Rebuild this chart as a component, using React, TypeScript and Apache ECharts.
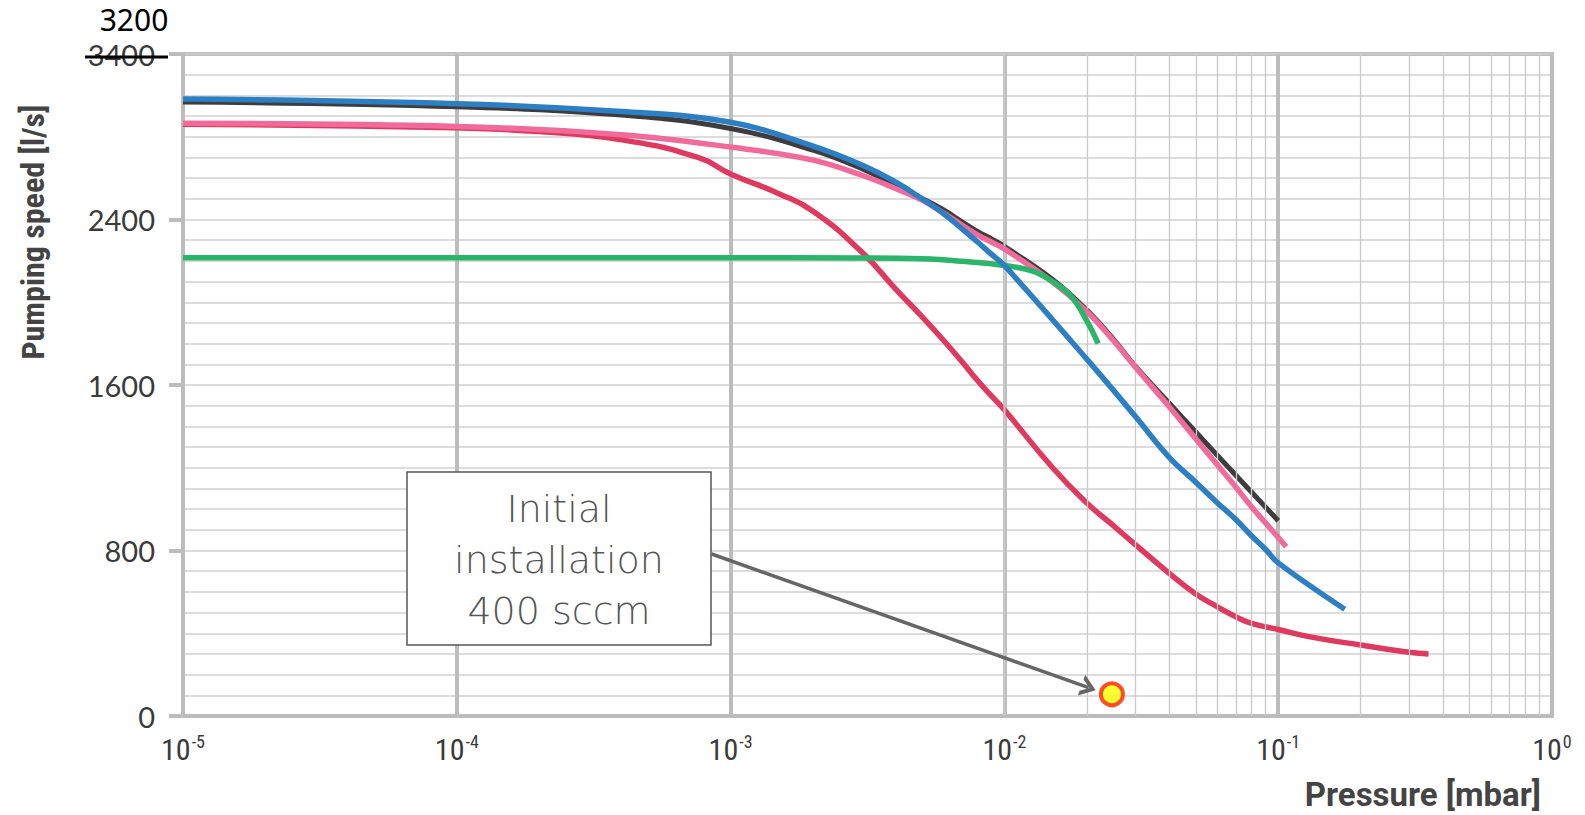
import React, { useEffect, useRef } from "react";
import * as echarts from "echarts";

// ---- data (pressure in mbar, pumping speed in l/s) ----
const blackP = [1e-5, 1e-4, 4e-4, 1e-3, 2e-3, 3e-3, 4e-3, 5e-3, 6e-3, 7e-3, 8e-3, 9e-3, 1e-2, 1.5e-2, 2e-2, 2.5e-2, 3e-2, 4e-2, 5e-2, 7e-2, 1e-1];
const blackS = [2968, 2945, 2905, 2840, 2735, 2647, 2566, 2502, 2446, 2389, 2341, 2305, 2270, 2110, 1962, 1822, 1692, 1512, 1373, 1164, 944];

const pinkP = [1e-5, 1e-4, 4e-4, 1e-3, 2e-3, 3e-3, 4e-3, 5e-3, 6e-3, 7e-3, 8e-3, 9e-3, 1e-2, 1.5e-2, 2e-2, 2.5e-2, 3e-2, 4e-2, 5e-2, 6e-2, 7e-2, 8e-2, 9e-2, 0.107];
const pinkS = [2865, 2850, 2810, 2750, 2687, 2615, 2550, 2494, 2431, 2373, 2325, 2290, 2258, 2097, 1955, 1815, 1688, 1495, 1340, 1213, 1107, 1010, 933, 818];

const redP = [1e-5, 1e-4, 2e-4, 4e-4, 7.6e-4, 1e-3, 1.5e-3, 2e-3, 3e-3, 4e-3, 5e-3, 6e-3, 7e-3, 8e-3, 9e-3, 1e-2, 1.5e-2, 2e-2, 2.5e-2, 3e-2, 4e-2, 5e-2, 6e-2, 7e-2, 8e-2, 1e-1, 0.134, 0.2, 0.3, 0.354];
const redS = [2860, 2843, 2825, 2785, 2700, 2620, 2525, 2440, 2245, 2065, 1930, 1815, 1712, 1620, 1545, 1480, 1200, 1030, 920, 830, 690, 590, 528, 480, 448, 418, 380, 343, 308, 300];

const blueP = [1e-5, 1e-4, 4e-4, 1e-3, 2e-3, 3e-3, 4e-3, 5e-3, 6e-3, 7e-3, 8e-3, 9e-3, 1e-2, 2e-2, 3e-2, 4e-2, 5e-2, 6e-2, 7e-2, 8e-2, 9e-2, 1e-1, 0.175];
const blueS = [2982, 2960, 2922, 2870, 2755, 2665, 2582, 2500, 2428, 2355, 2290, 2230, 2178, 1725, 1450, 1250, 1130, 1030, 950, 870, 805, 740, 516];

const greenP = [1e-5, 1e-3, 3e-3, 5e-3, 7e-3, 1e-2, 1.27e-2, 1.5e-2, 1.75e-2, 2e-2, 2.2e-2];
const greenS = [2215, 2215, 2214, 2210, 2198, 2178, 2150, 2100, 2030, 1910, 1800];

const markerP = [0.0247];
const markerS = [105];

const arrowFrom = [8.53e-4, 783];
const arrowTo = [0.0203, 137];

const yTickLabels = ["0", "800", "1600", "2400", "3400"];
const xDecades = [-5, -4, -3, -2, -1, 0];
const minorMultipliers = [2, 3, 4, 5, 6, 7, 8, 9];

const pairs = (xs: number[], ys: number[]) => xs.map((x, i) => [x, ys[i]]);

const GRID_LEFT = 183;
const GRID_RIGHT = 33;
const GRID_TOP = 54;
const GRID_BOTTOM = 99;

export default function App() {
  const ref = useRef<HTMLDivElement>(null);

  useEffect(() => {
    if (!ref.current) return;
    const chart = echarts.init(ref.current, null, { renderer: "svg" });

    const minorLines: any[] = [];
    xDecades.slice(0, -1).forEach((d) => {
      minorMultipliers.forEach((m) => {
        minorLines.push({ xAxis: m * Math.pow(10, d) });
      });
    });

    const narrow = "'Liberation Sans Narrow', 'Roboto Condensed', Roboto, sans-serif";
    const lineSeries = (name: string, xs: number[], ys: number[], color: string, width: number, z: number, smooth = 0.4) => ({
      name,
      type: "line",
      data: pairs(xs, ys),
      smooth,
      showSymbol: false,
      symbol: "none",
      lineStyle: { color, width, cap: "butt" },
      z,
      silent: true,
    });

    chart.setOption({
      animation: false,
      backgroundColor: "#ffffff",
      grid: {
        left: GRID_LEFT,
        right: GRID_RIGHT,
        top: GRID_TOP,
        bottom: GRID_BOTTOM,
        show: true,
        borderColor: "#bcbcbc",
        borderWidth: 4,
        backgroundColor: "transparent",
      },
      xAxis: {
        type: "log",
        logBase: 10,
        min: Math.pow(10, xDecades[0]),
        max: Math.pow(10, xDecades[xDecades.length - 1]),
        axisLine: { show: true, lineStyle: { color: "#bcbcbc", width: 4 } },
        axisTick: { show: false },
        splitLine: { show: true, lineStyle: { color: "#bcbcbc", width: 4 } },
        axisLabel: {
          margin: 16,
          showMinLabel: true,
          showMaxLabel: true,
          formatter: (v: number) => {
            const e = Math.round(Math.log10(v));
            return `{b|10}{e|${e}}`;
          },
          rich: {
            b: { fontSize: 30, color: "#3a3a3a", fontFamily: narrow },
            e: { fontSize: 18, color: "#3a3a3a", fontFamily: narrow, padding: [0, 0, 16, 1] },
          },
        },
      },
      yAxis: [
        {
          type: "value",
          min: 0,
          max: 3200,
          interval: 800,
          axisLine: { show: true, lineStyle: { color: "#bcbcbc", width: 4 } },
          axisTick: { show: true, length: 14, lineStyle: { color: "#bcbcbc", width: 4 } },
          splitLine: { show: false },
          axisLabel: {
            margin: 28,
            fontSize: 29,
            color: "#3a3a3a",
            fontFamily: "Lato, Roboto, sans-serif",
            formatter: (v: number) => yTickLabels[Math.round(v / 800)] ?? "",
          },
        },
        {
          type: "value",
          min: 0,
          max: 3200,
          interval: 100,
          axisLine: { show: false },
          axisTick: { show: false },
          axisLabel: { show: false },
          splitLine: { show: true, lineStyle: { color: "#d0d0d0", width: 1.5 } },
        },
      ],
      series: [
        {
          name: "minor",
          type: "line",
          data: [],
          silent: true,
          z: 1,
          markLine: {
            silent: true,
            symbol: ["none", "none"],
            label: { show: false },
            animation: false,
            lineStyle: { color: "#c9c9c9", width: 1.3, type: "solid" },
            emphasis: { disabled: true },
            data: minorLines,
          },
        },
        lineSeries("black", blackP, blackS, "#3f3c3d", 5, 3),
        lineSeries("red", redP, redS, "#e0395f", 5.5, 4, 0.5),
        lineSeries("pink", pinkP, pinkS, "#f06b9c", 5.5, 5),
        lineSeries("green", greenP, greenS, "#2bb56a", 5.5, 6),
        lineSeries("blue", blueP, blueS, "#2b7fc2", 5.5, 7),
        {
          name: "initial",
          type: "scatter",
          data: pairs(markerP, markerS),
          symbol: "circle",
          symbolSize: 22,
          itemStyle: { color: "#ffff00", borderColor: "#ff2200", borderWidth: 4 },
          z: 9,
          silent: true,
          markLine: {
            silent: true,
            animation: false,
            symbol: ["none", "path://M0,12 L8,0 L16,12 L12.4,12 L8,5.2 L3.6,12 Z"],
            symbolSize: [22, 15],
            label: { show: false },
            lineStyle: { color: "#666666", width: 3.5, type: "solid" },
            itemStyle: { color: "#666666" },
            emphasis: { disabled: true },
            data: [[{ coord: arrowFrom }, { coord: arrowTo }]],
          },
        },
      ],
      graphic: [
        {
          type: "text",
          x: 33,
          y: 232,
          rotation: Math.PI / 2,
          style: {
            text: "Pumping speed [l/s]",
            fontSize: 32,
            fontWeight: "bold",
            fontFamily: narrow,
            fill: "#444444",
            align: "center",
            verticalAlign: "middle",
            textAlign: "center",
            textVerticalAlign: "middle",
          },
        },
        {
          type: "text",
          x: 1541,
          y: 794,
          style: {
            text: "Pressure [mbar]",
            fontSize: 33,
            fontWeight: "bold",
            fontFamily: "Roboto, sans-serif",
            fill: "#444444",
            align: "right",
            verticalAlign: "middle",
            textAlign: "right",
            textVerticalAlign: "middle",
          },
        },
        {
          type: "text",
          x: 134,
          y: 19,
          style: {
            text: "3200",
            fontSize: 30,
            fontFamily: "'Noto Sans', sans-serif",
            fill: "#000000",
            align: "center",
            verticalAlign: "middle",
            textAlign: "center",
            textVerticalAlign: "middle",
          },
        },
        {
          type: "line",
          shape: { x1: 85, y1: 57, x2: 168, y2: 57 },
          style: { stroke: "#000000", lineWidth: 3 },
          z: 50,
        },
        {
          type: "rect",
          shape: { x: 407, y: 472, width: 304, height: 173 },
          style: { fill: "#ffffff", stroke: "#555555", lineWidth: 1.5 },
          z: 100,
        },
        {
          type: "text",
          x: 559,
          y: 560,
          z: 101,
          style: {
            text: "Initial\ninstallation\n400 sccm",
            fontSize: 38,
            fontWeight: 200,
            lineHeight: 51,
            fontFamily: "'DejaVu Sans', Lato, sans-serif",
            fill: "#555555",
            align: "center",
            verticalAlign: "middle",
            textAlign: "center",
            textVerticalAlign: "middle",
          },
        },
      ],
    });

    return () => chart.dispose();
  }, []);

  return (
    <div
      ref={ref}
      style={{ position: "fixed", left: 0, top: 0, width: 1585, height: 815, background: "#fff" }}
    />
  );
}
